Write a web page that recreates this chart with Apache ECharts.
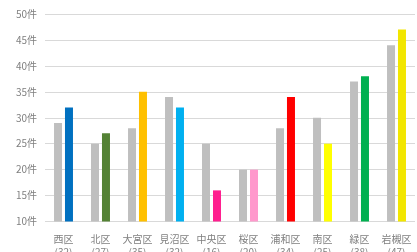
<!DOCTYPE html>
<html>
<head>
<meta charset="utf-8">
<script src="https://cdn.jsdelivr.net/npm/echarts@6/dist/echarts.min.js"></script>
<style>
  html, body { margin: 0; padding: 0; background: #fff; }
  #chart { width: 417px; height: 252px; }
</style>
</head>
<body>
<div id="chart"></div>
<script>
// ward names, last year (gray) and this year (coloured) counts
const wards = ['西区', '北区', '大宮区', '見沼区', '中央区', '桜区', '浦和区', '南区', '緑区', '岩槻区']
const prevCounts = [29, 25, 28, 34, 25, 20, 28, 30, 37, 44]
const currCounts = [32, 27, 35, 32, 16, 20, 34, 25, 38, 47]
const wardColors = ['#0070c0', '#548235', '#ffc000', '#00b0f0', '#ff1f8f', '#ff99cc', '#ff0000', '#ffff00', '#00b050', '#f2e600']
const yTicks = [10, 15, 20, 25, 30, 35, 40, 45, 50]

var myChart = echarts.init(document.getElementById('chart'))

myChart.setOption({
  animation: false,
  grid: {
    left: 45,
    right: 2,
    top: 14,
    bottom: 30.5,
    outerBoundsMode: 'none',
    containLabel: false
  },
  xAxis: {
    type: 'category',
    data: wards,
    axisLine: { show: false },
    axisTick: { show: false },
    axisLabel: {
      interval: 0,
      margin: 11,
      color: '#7f7f7f',
      fontSize: 10,
      lineHeight: 13,
      fontFamily: 'Noto Sans CJK JP',
      formatter: (v, i) => v + '\n(' + currCounts[i] + ')'
    }
  },
  yAxis: {
    type: 'value',
    min: yTicks[0],
    max: yTicks[yTicks.length - 1],
    interval: 5,
    axisLine: { show: false },
    axisTick: { show: false },
    axisLabel: {
      margin: 8,
      color: '#7f7f7f',
      fontSize: 10,
      fontFamily: 'Noto Sans CJK JP',
      formatter: '{value}件'
    },
    splitLine: { lineStyle: { color: '#d9d9d9', width: 1 } }
  },
  series: [
    {
      name: '前年',
      type: 'bar',
      barWidth: 8,
      barGap: '37%',
      itemStyle: { color: '#bfbfbf' },
      data: prevCounts
    },
    {
      name: '今年',
      type: 'bar',
      barWidth: 8,
      data: currCounts.map((v, i) => ({ value: v, itemStyle: { color: wardColors[i] } }))
    }
  ]
})
</script>
</body>
</html>
